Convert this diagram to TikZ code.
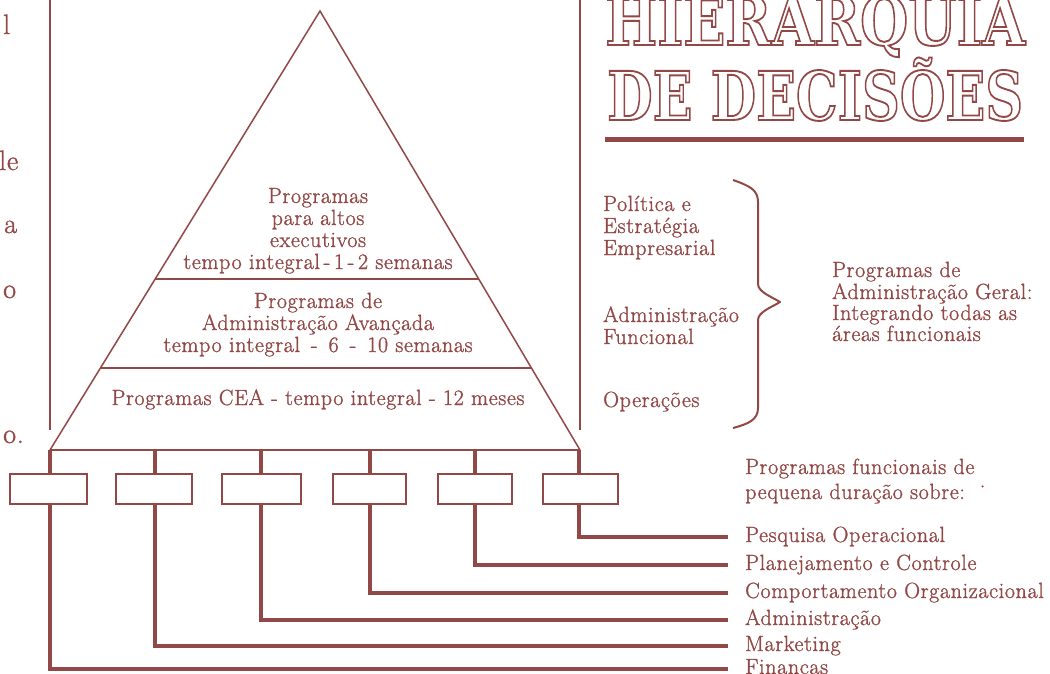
\documentclass[tikz,border=0pt]{standalone}
\usepackage{fontspec}
\usepackage{graphicx}
\setmainfont{Latin Modern Roman}[FakeBold=1.2, LetterSpace=3]
\newfontfamily\titlefont{DejaVu Serif}
\usetikzlibrary{calc}
\definecolor{brn}{RGB}{146,72,70}
\tikzset{
  lbl/.style={text=brn, font=\fontsize{22}{22}\selectfont, inner sep=0pt},
  fraglbl/.style={text=brn, font=\fontsize{28}{28}\selectfont, inner sep=0pt, anchor=base west},
  listlbl/.style={lbl, anchor=west, text height=14pt, text depth=4pt},
  fineline/.style={draw=brn, line width=1.5pt},
  baseline/.style={draw=brn, line width=2pt},
  heavyline/.style={draw=brn, line width=3.4pt},
  progbox/.style={draw=brn, line width=2.1pt, minimum height=30pt, inner sep=0pt},
  titletext/.style={anchor=base west, inner sep=0pt, text=brn},
}
\newcommand{\strokeon}{\special{pdf:literal direct 1 Tr 1.8 w}}
\newcommand{\strokeoff}{\special{pdf:literal direct 0 Tr}}
\newcommand{\ttlHier}{\resizebox{420pt}{50pt}{\fontsize{64}{64}\titlefont\bfseries\strokeon HIERARQUIA\strokeoff}}
\newcommand{\ttlDec}{\resizebox{416pt}{50pt}{\fontsize{64}{64}\titlefont\bfseries\vphantom{D}\strokeon DE DECIS\smash{Õ}ES\strokeoff}}
\begin{document}
\begin{tikzpicture}[x=1pt,y=-1pt]
\useasboundingbox (0,0) rectangle (1050,673);
\clip (0,0) rectangle (1050,673);
\fill[white] (0,0) rectangle (1050,673);

% title (drawn first so that the stroke mode is not disturbed)
\node[titletext] (title1) at (605,45) {\ttlHier};
\node[titletext] (title2) at (607,120) {\ttlDec};
\coordinate (UL) at (605,139);
\coordinate (UR) at (1024,139);
\draw[draw=brn, line width=5pt] (UL) -- (UR);

% left column fragments
\node[fraglbl] (fr1) at (3,34) {l};
\node[fraglbl] (fr2) at (-1,170) {le};
\node[fraglbl] (fr3) at (4,233) {a};
\node[fraglbl] (fr4) at (3,298) {o};
\node[fraglbl] (fr5) at (3,443) {o.};

% frame lines
\coordinate (LT) at (50,0);
\coordinate (LB) at (50,430);
\coordinate (RT) at (580,0);
\coordinate (RB) at (580,430);
\draw[fineline] (LT) -- (LB);
\draw[fineline] (RT) -- (RB);

% triangle
\coordinate (A) at (320,11);
\coordinate (BL) at (50,450);
\coordinate (BR) at (580,450);
\draw[fineline, line join=miter] (BL) -- (A) -- (BR);
\draw[baseline] (BL) -- (BR);
\draw[fineline] ($(BL)!0.3895!(A)$) -- ($(BR)!0.3895!(A)$);
\draw[fineline] ($(BL)!0.1868!(A)$) -- ($(BR)!0.1868!(A)$);

% triangle texts
\node[lbl, anchor=base] (t1a) at (318,203) {Programas};
\node[lbl, anchor=base] (t1b) at (318,225) {para altos};
\node[lbl, anchor=base] (t1c) at (318,247) {executivos};
\node[lbl, anchor=base] (t1d) at (318,269) {tempo integral\,-\,1\,-\,2 semanas};
\node[lbl, anchor=base] (t2a) at (318,308) {Programas de};
\node[lbl, anchor=base] (t2b) at (318,330) {Administração Avançada};
\node[lbl, anchor=base] (t2c) at (318,352) {tempo integral \,-\, 6 \,-\, 10 semanas};
\node[lbl, anchor=base] (t3a) at (318,405) {Programas CEA - tempo integral - 12 meses};

% levels on the right
\node[lbl, anchor=base west] (r1a) at (603,211) {Política e};
\node[lbl, anchor=base west] (r1b) at (603,233) {Estratégia};
\node[lbl, anchor=base west] (r1c) at (603,255) {Empresarial};
\node[lbl, anchor=base west] (r2a) at (603,322) {Administração};
\node[lbl, anchor=base west] (r2b) at (603,344) {Funcional};
\node[lbl, anchor=base west] (r3a) at (603,407) {Operações};

% brace
\coordinate (brT) at (733,180);
\coordinate (brM) at (780,302);
\coordinate (brB) at (733,428);
\draw[draw=brn, line width=2pt, line join=round]
  (brT) .. controls (750,186) and (758,190) .. (758,202) -- (758,284)
  .. controls (758,292) and (772,297) .. (brM)
  .. controls (772,307) and (758,312) .. (758,320) -- (758,408)
  .. controls (758,420) and (748,424) .. (brB);

\node[lbl, anchor=base west] (g1) at (832,277) {Programas de};
\node[lbl, anchor=base west] (g2) at (832,299) {Administração Geral:};
\node[lbl, anchor=base west] (g3) at (832,320) {Integrando todas as};
\node[lbl, anchor=base west] (g4) at (832,341) {áreas funcionais};

% boxes
\node[progbox, minimum width=77pt] (b1) at (48.5,489) {};
\node[progbox, minimum width=76pt] (b2) at (154,489) {};
\node[progbox, minimum width=79pt] (b3) at (261.5,489) {};
\node[progbox, minimum width=73pt] (b4) at (369.5,489) {};
\node[progbox, minimum width=74pt] (b5) at (475,489) {};
\node[progbox, minimum width=75pt] (b6) at (580.5,489) {};

\coordinate (s1) at (50,450);
\coordinate (s2) at (155,450);
\coordinate (s3) at (261,450);
\coordinate (s4) at (370,450);
\coordinate (s5) at (475,450);
\coordinate (s6) at (579,450);
\foreach \i in {1,...,6} {
  \draw[heavyline] (s\i) -- (s\i |- b\i.north);
}

% list labels
\node[lbl, anchor=base west] (f0a) at (745,474) {Programas funcionais de};
\node[lbl, anchor=base west] (f0b) at (745,499) {pequena duração sobre: \raisebox{5pt}{·}};
\node[listlbl] (l6) at (745,537) {Pesquisa Operacional};
\node[listlbl] (l5) at (745,565) {Planejamento e Controle};
\node[listlbl] (l4) at (745,593) {Comportamento Organizacional};
\node[listlbl] (l3) at (745,620) {Administração};
\node[listlbl] (l2) at (745,646) {Marketing};
\node[listlbl] (l1) at (745,669) {Finanças};

\foreach \i in {1,...,6} {
  \draw[heavyline, line join=miter] (s\i |- b\i.south) |- ([xshift=-17pt]l\i.west);
}
\end{tikzpicture}
\end{document}
